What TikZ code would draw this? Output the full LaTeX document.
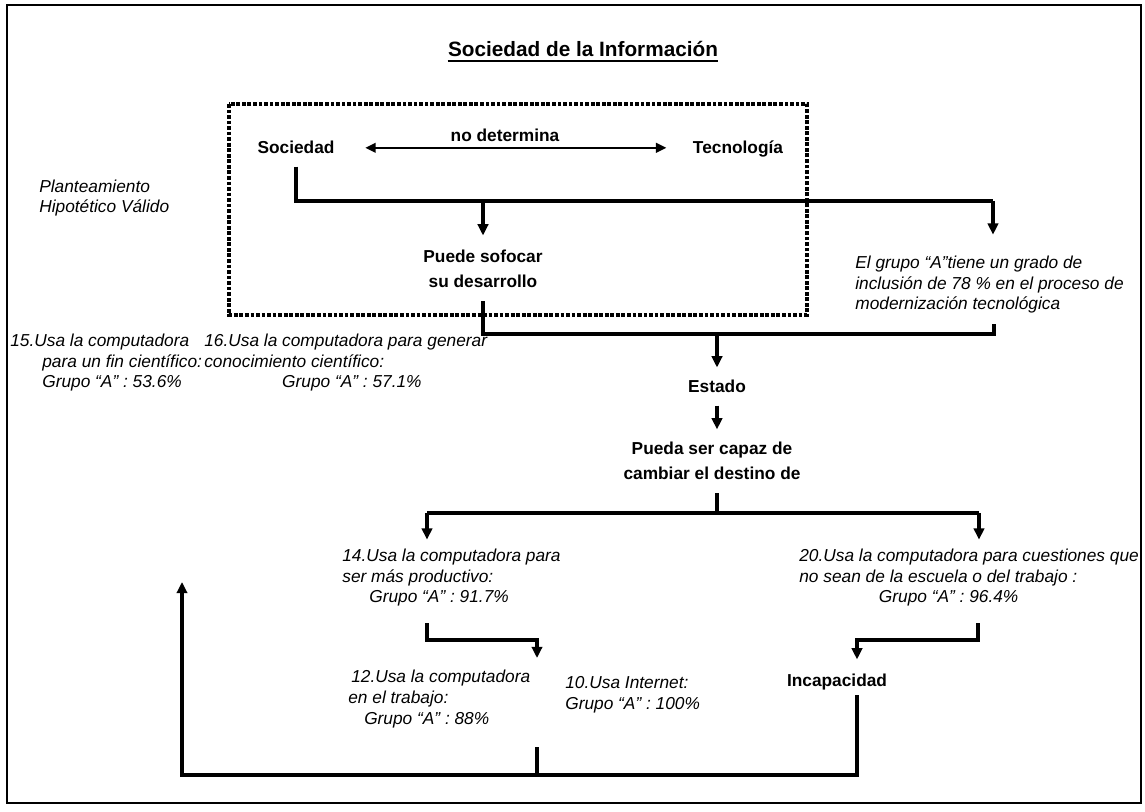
\documentclass[tikz,border=0pt]{standalone}
\usepackage{fontspec}
\setmainfont{Liberation Sans}
\usetikzlibrary{arrows.meta,calc}

\begin{document}
\begin{tikzpicture}[x=0.578pt,y=-0.578pt,
  % multi-line text nodes are placed by the baseline of their last line
  txt/.style={inner sep=0pt, font=\fontsize{10}{12.1}\selectfont\itshape, align=left, anchor=base west},
  key/.style={inner sep=0pt, font=\fontsize{10}{14.5}\selectfont\bfseries, align=center, anchor=base},
  link/.style={line width=2.1pt},
  tip/.style={-{Triangle[width=6pt,length=6.5pt]}},
  arr/.style={link, tip},
  frame/.style={line width=1.2pt},
  dotbox/.style={line width=2.4pt, dash pattern=on 2.2pt off 1pt},
]
\useasboundingbox (0,0) rectangle (1145,812);

% page frame
\draw[frame] (7,5) rectangle (1141,803);

% title
\node[inner sep=0pt, anchor=base, font=\fontsize{12}{14}\selectfont\bfseries] (title) at (583,57) {Sociedad de la Información};
\draw[frame] ([yshift=-2.3pt]title.base west) -- ([yshift=-2.3pt]title.base east);

% dotted frame around the hypothesis
\draw[dotbox] (229,104) rectangle (807,315);

% texts
\node[key] (soc) at (296,154) {Sociedad};
\node[key] (nodet) at (505,142) {no determina};
\node[key] (tec) at (738,154) {Tecnología};
\node[txt] (plant) at (39,213) {Planteamiento\\Hipotético Válido};
\node[key] (sof) at (483,288) {Puede sofocar\\su desarrollo};
\node[txt] (grupo) at (855,310) {El grupo “A”tiene un grado de\\inclusión de 78 \% en el proceso de\\modernización tecnológica};
\node[key] (estado) at (717,393) {Estado};
\node[key] (pueda) at (712,480) {Pueda ser capaz de\\cambiar el destino de};
\node[txt] (n15) at (10,388) {15.Usa la computadora\\\hspace*{18.5pt}para un fin científico:\\\hspace*{18.5pt}Grupo “A” : 53.6\%};
\node[txt] (n16) at (204,388) {16.Usa la computadora para generar\\conocimiento científico:\\\hspace*{45pt}Grupo “A” : 57.1\%};
\node[txt] (n14) at (342,603) {14.Usa la computadora para\\ser más productivo:\\\hspace*{15.6pt}Grupo “A” : 91.7\%};
\node[txt] (n20) at (799,603) {20.Usa la computadora para cuestiones que\\no sean de la escuela o del trabajo :\\\hspace*{46pt}Grupo “A” : 96.4\%};
\node[txt] (n12) at (348,724) {\hspace*{1.7pt}12.Usa la computadora\\en el trabajo:\\\hspace*{9.2pt}Grupo “A” : 88\%};
\node[txt] (n10) at (565,709) {10.Usa Internet:\\Grupo “A” : 100\%};
\node[key] (incap) at (837,686) {Incapacidad};

% junction points of the connectors
\coordinate (b1l) at (296,201);
\coordinate (b1r) at (993,201);
\coordinate (b2) at (717,334);
\coordinate (b2r) at (994,334);
\coordinate (b4) at (717,513);
\coordinate (b4l) at (427,513);
\coordinate (b4r) at (979,513);
\coordinate (b5) at (427,640);
\coordinate (t5) at (537,658);
\coordinate (b6) at (978,640);
\coordinate (t6) at (857,640);
\coordinate (b7) at (857,775);
\coordinate (b7l) at (182,775);
\coordinate (t7) at (182,582);
\coordinate (m7) at (537,747);

% Sociedad <-> Tecnologia
\draw[line width=1.3pt, {Triangle[width=5.5pt,length=6pt]}-{Triangle[width=5.5pt,length=6pt]}, shorten <=17.6pt, shorten >=15.2pt]
  (soc.east) -- (soc.east -| tec.west);

% Sociedad branches
\draw[link, shorten <=7pt] (soc.south) -- (b1l) -- (b1r);
\draw[arr, shorten >=8.4pt] (b1l -| sof.north) -- (sof.north);
\draw[arr, shorten >=11.9pt] (b1r) -- (b1r |- grupo.north);

% both results lead to Estado
\draw[link, shorten <=7.5pt, shorten >=6pt] (sof.south) |- (b2r) -- (b2r |- grupo.south);
\draw[arr, shorten >=7.3pt] (b2) -- (estado.north);
\draw[arr, shorten <=7pt, shorten >=7.3pt] (estado.south) -- (estado.south |- pueda.north);

% Pueda ser capaz ... splits in two
\draw[link, shorten <=7.5pt] (b4 |- pueda.south) -- (b4);
\draw[link] (b4l) -- (b4r);
\draw[arr, shorten >=5pt] (b4l) -- (b4l |- n14.north);
\draw[arr, shorten >=5pt] (b4r) -- (b4r |- n20.north);

% lower level
\draw[arr, shorten <=9.5pt] (b5 |- n14.south) -- (b5) -| (t5);
\draw[arr, shorten <=9.5pt, shorten >=7.9pt] (b6 |- n20.south) -- (b6) -- (t6) -- (t6 |- incap.north);

% feedback loop
\draw[arr, shorten <=3.1pt] (b7 |- incap.south) -- (b7) -- (b7l) -- (t7);
\draw[link] (m7) -- (m7 |- b7);
\end{tikzpicture}
\end{document}
